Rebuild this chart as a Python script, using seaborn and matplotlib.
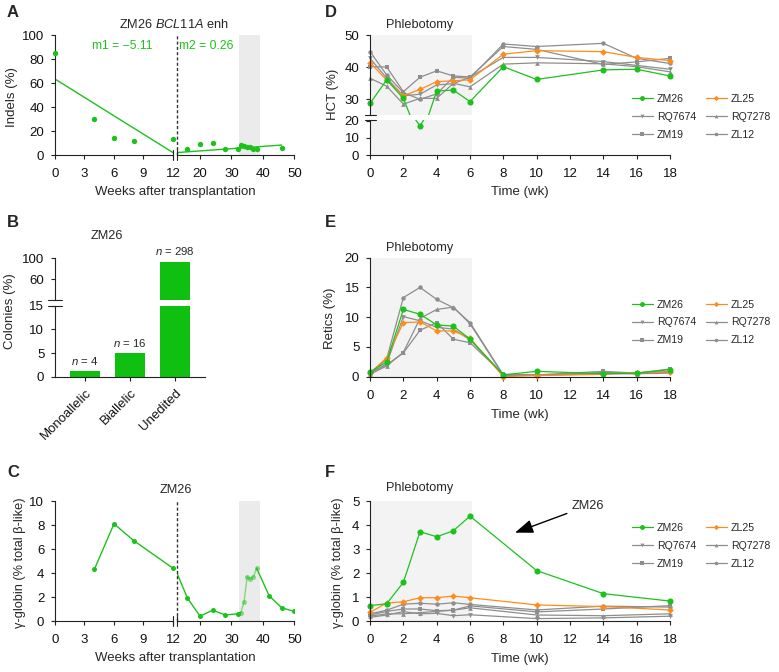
import numpy as np
import pandas as pd
import seaborn as sns
import matplotlib.pyplot as plt
from matplotlib.lines import Line2D
from matplotlib.transforms import blended_transform_factory

# ---- A: indels in ZM26 (weeks after transplantation)
a_weeks_early = [0, 4, 6, 8, 12]
a_indels_early = [85, 30, 14, 11.7, 13]
a_weeks_late = [16, 20, 24, 28, 32, 33, 34, 35, 36, 37, 38, 46]
a_indels_late = [5.3, 8.9, 10.3, 5.0, 5.3, 8.3, 7.2, 6.7, 6.9, 5.0, 5.3, 5.8]
a_fit1_weeks = [0, 12]
a_fit1_indels = [63.3, 2.0]
a_fit2_weeks = [12.5, 46]
a_fit2_indels = [2.0, 8.3]

# ---- B: colony genotypes
genotypes = ["Monoallelic", "Biallelic", "Unedited"]
colony_n = [4, 16, 298]

# ---- C: gamma-globin in ZM26
c_weeks_early = [4, 6, 8, 12]
c_gamma_early = [4.3, 8.1, 6.7, 4.4]
c_weeks_late = [12, 16, 20, 24, 28, 32, 33, 34, 35, 36, 37, 38, 42, 46, 50]
c_gamma_late = [4.4, 1.9, 0.4, 0.9, 0.5, 0.6, 0.7, 1.6, 3.7, 3.5, 3.7, 4.4, 2.1, 1.1, 0.8]
c_phleb_weeks = [33, 34, 35, 36, 37, 38]
ac_phleb_span = (32.5, 39)

# ---- D-F: phlebotomy time course
wk_de = [0, 1, 2, 3, 4, 5, 6, 8, 10, 14, 16, 18]
wk_f = [0, 1, 2, 3, 4, 5, 6, 10, 14, 18]
phleb_span = (0, 6.1)

zm26_hct = [28.6, 36.0, 30.2, 17.0, 32.5, 32.8, 29.2, 40.1, 36.1, 39.1, 39.3, 37.2]
zl25_hct = [41.4, 35.9, 31.0, 33.0, 35.4, 35.7, 36.0, 44.0, 45.1, 44.8, 43.0, 42.0]
rq7674_hct = [42.7, 36.5, 31.0, 31.5, 34.4, 34.8, 36.8, 43.0, 43.0, 41.7, 40.5, 39.3]
rq7278_hct = [36.5, 34.0, 28.4, 30.2, 30.2, 34.9, 33.8, 40.9, 41.3, 41.0, 40.1, 38.5]
zm19_hct = [40.1, 40.0, 32.3, 36.8, 38.8, 37.2, 36.9, 46.4, 45.5, 40.8, 41.6, 42.7]
zl12_hct = [44.8, 37.5, 32.0, 29.9, 31.6, 36.8, 36.5, 47.2, 46.4, 47.4, 42.7, 41.1]

zm26_ret = [0.8, 2.5, 11.3, 10.5, 8.7, 8.5, 6.3, 0.3, 0.9, 0.5, 0.6, 1.2]
zl25_ret = [0.6, 3.2, 9.1, 9.2, 7.7, 7.7, 6.5, 0.0, 0.2, 0.4, 0.7, 0.8]
rq7674_ret = [0.5, 2.2, 10.1, 9.4, 8.3, 8.0, 6.2, 0.3, 0.2, 0.5, 0.5, 0.6]
rq7278_ret = [0.4, 1.8, 4.1, 9.8, 11.3, 11.7, 8.9, 0.2, 0.3, 0.6, 0.5, 0.9]
zm19_ret = [0.7, 2.0, 4.0, 7.8, 9.1, 6.3, 5.7, 0.4, 0.3, 0.9, 0.6, 1.3]
zl12_ret = [0.5, 3.0, 13.3, 15.0, 13.0, 11.6, 9.1, 0.3, 0.2, 0.7, 0.6, 0.8]

zm26_gam = [0.64, 0.72, 1.61, 3.72, 3.51, 3.76, 4.37, 2.10, 1.14, 0.83]
zl25_gam = [0.36, 0.75, 0.80, 0.97, 0.97, 1.04, 0.97, 0.67, 0.60, 0.46]
rq7674_gam = [0.15, 0.25, 0.39, 0.30, 0.32, 0.22, 0.26, 0.10, 0.13, 0.20]
rq7278_gam = [0.20, 0.30, 0.30, 0.35, 0.40, 0.45, 0.55, 0.25, 0.22, 0.30]
zm19_gam = [0.25, 0.40, 0.50, 0.50, 0.43, 0.45, 0.63, 0.38, 0.50, 0.64]
zl12_gam = [0.30, 0.45, 0.70, 0.74, 0.70, 0.76, 0.69, 0.46, 0.62, 0.58]

hct = {"ZM26": zm26_hct, "ZL25": zl25_hct, "RQ7674": rq7674_hct,
       "RQ7278": rq7278_hct, "ZM19": zm19_hct, "ZL12": zl12_hct}
ret = {"ZM26": zm26_ret, "ZL25": zl25_ret, "RQ7674": rq7674_ret,
       "RQ7278": rq7278_ret, "ZM19": zm19_ret, "ZL12": zl12_ret}
gam = {"ZM26": zm26_gam, "ZL25": zl25_gam, "RQ7674": rq7674_gam,
       "RQ7278": rq7278_gam, "ZM19": zm19_gam, "ZL12": zl12_gam}

green = "#1cc21c"
orange = "#ff8c1a"
gray = "#8e8e8e"
shade_ac = "#ebebeb"
shade_df = "#f3f3f3"
ink = "#222222"

animal_style = {
    "ZM26": ("o", green, 4.4),
    "ZL25": ("D", orange, 3.4),
    "RQ7674": ("v", gray, 3.4),
    "RQ7278": ("^", gray, 3.4),
    "ZM19": ("s", gray, 3.2),
    "ZL12": ("o", gray, 3.2),
}
draw_order = ["RQ7674", "RQ7278", "ZM19", "ZL12", "ZL25", "ZM26"]
legend_order = ["ZM26", "RQ7674", "ZM19", "ZL25", "RQ7278", "ZL12"]

sns.set_theme(style="ticks")
plt.rcParams["font.family"] = ["Liberation Sans", "DejaVu Sans"]
plt.rcParams["mathtext.fontset"] = "custom"
plt.rcParams["mathtext.rm"] = "Liberation Sans"
plt.rcParams["mathtext.it"] = "Liberation Sans:italic"
plt.rcParams["axes.unicode_minus"] = True

W, H = 779, 672
fig = plt.figure(figsize=(W / 100, H / 100), dpi=100)


def add_ax(x0, y0, x1, y1):
    return fig.add_axes([x0 / W, 1 - y1 / H, (x1 - x0) / W, (y1 - y0) / H])


def base_style(ax):
    ax.tick_params(axis="both", length=3.2, width=0.8, labelsize=9.5,
                   color=ink, labelcolor="#111111")
    ax.tick_params(axis="x", pad=6.5)
    ax.tick_params(axis="y", pad=4.5)
    for s in ["top", "right"]:
        ax.spines[s].set_visible(False)
    for s in ["left", "bottom"]:
        ax.spines[s].set_linewidth(0.8)
        ax.spines[s].set_color(ink)
    ax.set_facecolor("none")


def ftext(x, y, s, **kw):
    kw.setdefault("ha", "center")
    kw.setdefault("va", "center")
    kw.setdefault("fontsize", 9.5)
    return fig.text(x / W, 1 - y / H, s, **kw)


def draw_course(ax, weeks, vals, clip=True):
    for name in draw_order:
        mk, col, ms = animal_style[name]
        sns.lineplot(x=weeks, y=vals[name], ax=ax, color=col, marker=mk,
                     markersize=ms, markeredgewidth=0, linewidth=0.9,
                     sort=False, errorbar=None, clip_on=clip, legend=False)


def course_axes(ax, ylim, yticks, xaxis=True):
    base_style(ax)
    ax.set_xlim(-0.35, 18.35)
    ax.set_ylim(*ylim)
    ax.set_yticks(yticks)
    ax.spines["left"].set_position(("data", 0))
    if xaxis:
        ax.set_xticks(range(0, 19, 2))
        ax.spines["bottom"].set_bounds(0, 18)
    else:
        ax.set_xticks([])
        ax.spines["bottom"].set_visible(False)


def add_legend(x, y):
    handles = []
    for name in legend_order:
        mk, col, ms = animal_style[name]
        handles.append(Line2D([], [], color=col, marker=mk, lw=0.9,
                              markersize=ms * 0.8, markeredgewidth=0))
    fig.legend(handles, legend_order, ncol=2, loc="upper left",
               bbox_to_anchor=(x / W, 1 - y / H), frameon=False, fontsize=7.6,
               handlelength=2.0, handletextpad=0.4, columnspacing=0.9,
               labelspacing=0.75, borderpad=0, borderaxespad=0)


def x_break(ax_left, ax_right):
    for ax, xf in ((ax_left, 1.0), (ax_right, 0.0)):
        ax.plot([xf, xf], [-0.045, 0.045], transform=ax.transAxes, color=ink,
                lw=0.8, clip_on=False)


# ================= A =================
axA1 = add_ax(55, 35, 173, 155)
axA2 = add_ax(176.5, 35, 294.3, 155)
axA2.axvspan(*ac_phleb_span, color=shade_ac, lw=0, zorder=0)
sns.lineplot(x=a_fit1_weeks, y=a_fit1_indels, ax=axA1, color=green, lw=1, errorbar=None)
sns.lineplot(x=a_fit2_weeks, y=a_fit2_indels, ax=axA2, color=green, lw=1, errorbar=None)
sns.scatterplot(x=a_weeks_early, y=a_indels_early, ax=axA1, color=green, s=15,
                linewidth=0, clip_on=False, zorder=3)
sns.scatterplot(x=a_weeks_late, y=a_indels_late, ax=axA2, color=green, s=15,
                linewidth=0, clip_on=False, zorder=3)
for ax in (axA1, axA2):
    base_style(ax)
    ax.set_ylim(0, 100)
axA1.set_xlim(0, 12)
axA1.set_xticks([0, 3, 6, 9, 12])
axA1.set_yticks(range(0, 101, 20))
axA2.set_xlim(12.5, 50)
axA2.set_xticks([20, 30, 40, 50])
axA2.set_yticks([])
axA2.spines["left"].set_visible(False)
axA2.axvline(12.5, color="#333333", ls=(0, (2.2, 1.6)), lw=1, clip_on=False)
x_break(axA1, axA2)
axA1.text(6.8, 91, "m1 = \u22125.11", color=green, ha="center", va="center", fontsize=8.7)
axA2.text(22.1, 91, "m2 = 0.26", color=green, ha="center", va="center", fontsize=8.7)
ftext(174, 24, r"ZM26 $\it{BCL11A}$ enh", fontsize=9.2)
ftext(175, 192, "Weeks after transplantation")
ftext(12.5, 97, "Indels (%)", rotation=90)

# ================= B =================
pct = [n / sum(colony_n) * 100 for n in colony_n]
axB_top = add_ax(55, 258.3, 205, 300.3)
axB_bot = add_ax(55, 305.7, 205, 376.7)
for ax in (axB_top, axB_bot):
    sns.barplot(x=genotypes, y=pct, ax=ax, color="#10c010", saturation=1,
                width=0.65, linewidth=0)
    base_style(ax)
    ax.set_xlim(-0.67, 2.67)
axB_top.set_ylim(20, 100)
axB_top.set_yticks([60, 100])
axB_top.set_xticks([])
axB_top.spines["bottom"].set_visible(False)
axB_bot.set_ylim(0, 15)
axB_bot.set_yticks([0, 5, 10, 15])
axB_bot.set_xticks(range(3))
axB_bot.set_xticklabels(genotypes, rotation=45, ha="right", rotation_mode="anchor")
axB_bot.tick_params(axis="x", pad=4)
for i, (n, p) in enumerate(zip(colony_n, pct)):
    ax = axB_top if p > 15 else axB_bot
    ax.annotate(f"$n$ = {n}", (i, p), xytext=(0, 3), textcoords="offset points",
                ha="center", va="bottom", fontsize=8.2)
for ax, yf in ((axB_top, 0.0), (axB_bot, 1.0)):
    ax.plot([-0.045, 0.045], [yf, yf], transform=ax.transAxes, color=ink,
            lw=0.8, clip_on=False)
ftext(107, 236, "ZM26", fontsize=9.2)
ftext(10.5, 311, "Colonies (%)", rotation=90)

# ================= C =================
axC1 = add_ax(55, 501, 173, 621)
axC2 = add_ax(176.5, 501, 294.3, 621)
axC2.axvspan(*ac_phleb_span, color=shade_ac, lw=0, zorder=0)
sns.lineplot(x=c_weeks_early, y=c_gamma_early, ax=axC1, color=green, lw=1,
             marker="o", markersize=3.6, markeredgewidth=0, errorbar=None,
             clip_on=False)
c_df = pd.DataFrame({"week": c_weeks_late, "gamma": c_gamma_late})
c_df["phleb"] = c_df["week"].isin(c_phleb_weeks)
first_p, last_p = min(c_phleb_weeks), max(c_phleb_weeks)
sns.lineplot(data=c_df[c_df.week <= first_p], x="week", y="gamma", ax=axC2,
             color=green, lw=1, errorbar=None)
sns.lineplot(data=c_df[(c_df.week >= first_p) & (c_df.week <= last_p)], x="week",
             y="gamma", ax=axC2, color=green, alpha=0.5, lw=1, errorbar=None)
sns.lineplot(data=c_df[c_df.week >= last_p], x="week", y="gamma", ax=axC2,
             color=green, lw=1, errorbar=None)
sns.scatterplot(data=c_df[(~c_df.phleb) & (c_df.week > 12)], x="week", y="gamma",
                ax=axC2, color=green, s=13, linewidth=0, zorder=3)
sns.scatterplot(data=c_df[c_df.phleb], x="week", y="gamma", ax=axC2, color=green,
                alpha=0.5, s=13, linewidth=0, zorder=3)
for ax in (axC1, axC2):
    base_style(ax)
    ax.set_ylim(0, 10)
axC1.set_xlim(0, 12)
axC1.set_xticks([0, 3, 6, 9, 12])
axC1.set_yticks(range(0, 11, 2))
axC2.set_xlim(12.5, 50)
axC2.set_xticks([20, 30, 40, 50])
axC2.set_yticks([])
axC2.spines["left"].set_visible(False)
axC2.axvline(12.5, color="#333333", ls=(0, (2.2, 1.6)), lw=1, clip_on=False)
x_break(axC1, axC2)
ftext(176, 490, "ZM26", fontsize=9.2)
ftext(175, 658, "Weeks after transplantation")
ftext(20.5, 563, "\u03b3-globin (% total \u03b2-like)", rotation=90, fontsize=9.2)

# ================= D =================
axD_top = add_ax(364.2, 35, 675.8, 115)
axD_bot = add_ax(364.2, 120, 675.8, 155)
for ax in (axD_top, axD_bot):
    ax.axvspan(*phleb_span, color=shade_df, lw=0, zorder=0)
    draw_course(ax, wk_de, hct, clip=True)
course_axes(axD_top, (25, 50), [30, 40, 50], xaxis=False)
course_axes(axD_bot, (0, 20.4), [0, 10, 20])
for ax, yf in ((axD_top, 0.0), (axD_bot, 1.0)):
    tr = blended_transform_factory(ax.transData, ax.transAxes)
    ax.plot([-0.33, 0.37], [yf, yf], transform=tr, color=ink, lw=0.8, clip_on=False)
axD_top.annotate("Phlebotomy", (3, 1), xycoords=("data", "axes fraction"),
                 xytext=(0, 3), textcoords="offset points", ha="center",
                 va="bottom", fontsize=9.2)
add_legend(631.7, 93.8)
ftext(520, 192, "Time (wk)")
ftext(333, 94, "HCT (%)", rotation=90)

# ================= E =================
axE = add_ax(364.2, 257.7, 675.8, 376.7)
axE.axvspan(*phleb_span, color=shade_df, lw=0, zorder=0)
draw_course(axE, wk_de, ret, clip=False)
course_axes(axE, (0, 20), range(0, 21, 5))
axE.annotate("Phlebotomy", (3, 1), xycoords=("data", "axes fraction"),
             xytext=(0, 3), textcoords="offset points", ha="center",
             va="bottom", fontsize=9.2)
add_legend(631.7, 299.5)
ftext(520, 415, "Time (wk)")
ftext(330, 318, "Retics (%)", rotation=90)

# ================= F =================
axF = add_ax(364.2, 501, 675.8, 621)
axF.axvspan(*phleb_span, color=shade_df, lw=0, zorder=0)
draw_course(axF, wk_f, gam, clip=False)
course_axes(axF, (0, 5), range(0, 6))
axF.annotate("Phlebotomy", (3, 1), xycoords=("data", "axes fraction"),
             xytext=(0, 5), textcoords="offset points", ha="center",
             va="bottom", fontsize=9.2)
axF.annotate("ZM26", xy=(8.7, 3.68), xytext=(13.06, 4.8), ha="center", va="center",
             fontsize=9.2,
             arrowprops=dict(arrowstyle="-|>,head_length=1.2,head_width=0.45",
                             color="black", lw=1, relpos=(0.0, 0.0),
                             shrinkA=1, shrinkB=0))
add_legend(631.7, 522.8)
ftext(520, 659, "Time (wk)")
ftext(337.5, 563, "\u03b3-globin (% total \u03b2-like)", rotation=90, fontsize=9.2)

for ax in fig.axes:
    ax.set_xlabel("")
    ax.set_ylabel("")

# panel letters
for letter, (x, y) in {"A": (7, 5), "B": (7, 215), "C": (7, 465),
                       "D": (325, 5), "E": (325, 215), "F": (325, 465)}.items():
    fig.text(x / W, 1 - y / H, letter, ha="left", va="top", fontsize=12,
             fontweight="bold")

fig.savefig("out.png", dpi=100)
